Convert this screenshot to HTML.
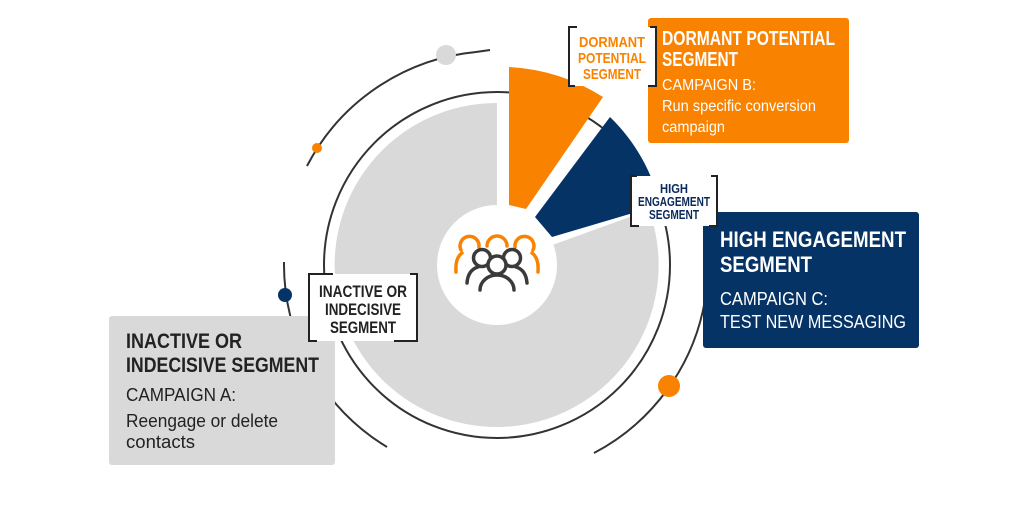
<!DOCTYPE html>
<html><head><meta charset="utf-8"><style>
html,body{margin:0;padding:0;background:#fff;}
svg{display:block;}
text{font-family:"Liberation Sans",sans-serif;}
</style></head><body>
<svg width="1024" height="512" viewBox="0 0 1024 512" xmlns="http://www.w3.org/2000/svg">
<rect width="1024" height="512" fill="#fff"/>
<g fill="none" stroke="#333" stroke-width="2">
<path d="M307,166 A213,213 0 0 1 476,52"/>
<path d="M476,52 L490,50"/>
<path d="M284,262 A213,213 0 0 0 387,447"/>
<path d="M594,453 A213,213 0 0 0 705,300"/>
<circle cx="497" cy="265" r="173"/>
</g>
<path d="M497,265 L497,103 A162,162 0 1 0 649,210 Z" fill="#d9d9d9"/>
<circle cx="497" cy="265" r="60" fill="#fff"/>
<path d="M509,205 L509,67 A195,195 0 0 1 603,97 L526,209 Z" fill="#f98200"/>
<path d="M535,217 L610,117 A180,180 0 0 1 660,205 L552,237 Z" fill="#053366"/>
<circle cx="446" cy="55" r="10" fill="#d9d9d9"/>
<circle cx="317" cy="148" r="5" fill="#f98200"/>
<circle cx="285" cy="295" r="7" fill="#053366"/>
<circle cx="669" cy="386" r="11" fill="#f98200"/>
<g fill="none" stroke-width="3.5" stroke-linecap="round">
<g stroke="#f98200">
<path d="M461,250 A9.5,9.5 0 1 1 479,247"/>
<path d="M487,246 A10,10 0 0 1 507,246"/>
<path d="M515,247 A9.5,9.5 0 1 1 533,250"/>
<path d="M462,253 Q455,258 456,272"/>
<path d="M532,253 Q539,258 538,272"/>
</g>
<g stroke="#3a3a3a">
<circle cx="482" cy="258" r="8.5"/>
<circle cx="512" cy="258" r="8.5"/>
<path d="M467,283 Q468,270 478,267"/>
<path d="M527,283 Q526,270 516,267"/>
<circle cx="497" cy="265" r="9" fill="#fff"/>
<path d="M480,290 A17,15 0 0 1 514,290"/>
</g>
</g>
<rect x="648" y="18" width="201" height="125" rx="3" fill="#f98200"/>
<g fill="#fff">
<text x="662" y="45" font-size="20" font-weight="bold" textLength="173" lengthAdjust="spacingAndGlyphs">DORMANT POTENTIAL</text>
<text x="662" y="66" font-size="20" font-weight="bold" textLength="76" lengthAdjust="spacingAndGlyphs">SEGMENT</text>
<text x="662" y="90" font-size="16" textLength="94" lengthAdjust="spacingAndGlyphs">CAMPAIGN B:</text>
<text x="662" y="111" font-size="16" textLength="154" lengthAdjust="spacingAndGlyphs">Run specific conversion</text>
<text x="662" y="132" font-size="16" textLength="63" lengthAdjust="spacingAndGlyphs">campaign</text>
</g>
<rect x="703" y="212" width="216" height="136" rx="3" fill="#053366"/>
<g fill="#fff">
<text x="720" y="247" font-size="22" font-weight="bold" textLength="186" lengthAdjust="spacingAndGlyphs">HIGH ENGAGEMENT</text>
<text x="720" y="272" font-size="22" font-weight="bold" textLength="92" lengthAdjust="spacingAndGlyphs">SEGMENT</text>
<text x="720" y="305" font-size="18" textLength="108" lengthAdjust="spacingAndGlyphs">CAMPAIGN C:</text>
<text x="720" y="328" font-size="18" textLength="186" lengthAdjust="spacingAndGlyphs">TEST NEW MESSAGING</text>
</g>
<rect x="109" y="316" width="226" height="149" rx="3" fill="#d9d9d9"/>
<g fill="#222">
<text x="126" y="348" font-size="21" font-weight="bold" textLength="116" lengthAdjust="spacingAndGlyphs">INACTIVE OR</text>
<text x="126" y="372" font-size="21" font-weight="bold" textLength="193" lengthAdjust="spacingAndGlyphs">INDECISIVE SEGMENT</text>
<text x="126" y="401" font-size="18" textLength="110" lengthAdjust="spacingAndGlyphs">CAMPAIGN A:</text>
<text x="126" y="427" font-size="18" textLength="152" lengthAdjust="spacingAndGlyphs">Reengage or delete</text>
<text x="126" y="448" font-size="18" textLength="69" lengthAdjust="spacingAndGlyphs">contacts</text>
</g>
<g>
<rect x="569" y="27" width="87" height="59" fill="#fff"/>
<path d="M577,27 H569 V86 H575 M648,86 H656 V27 H650" fill="none" stroke="#222" stroke-width="2"/>
<g fill="#f98200" font-weight="bold" font-size="15">
<text x="579" y="47" textLength="66" lengthAdjust="spacingAndGlyphs">DORMANT</text>
<text x="578" y="63" textLength="68" lengthAdjust="spacingAndGlyphs">POTENTIAL</text>
<text x="583" y="79" textLength="58" lengthAdjust="spacingAndGlyphs">SEGMENT</text>
</g>
<rect x="631" y="176" width="86" height="50" fill="#fff"/>
<path d="M637,176 H631 V226 H639 M709,226 H717 V176 H711" fill="none" stroke="#222" stroke-width="2"/>
<g fill="#0b2a5c" font-weight="bold" font-size="12.5">
<text x="660" y="193" textLength="28" lengthAdjust="spacingAndGlyphs">HIGH</text>
<text x="638" y="206" textLength="72" lengthAdjust="spacingAndGlyphs">ENGAGEMENT</text>
<text x="649" y="219" textLength="50" lengthAdjust="spacingAndGlyphs">SEGMENT</text>
</g>
<rect x="309" y="274" width="108" height="67" fill="#fff"/>
<path d="M333,274 H309 V341 H317 M394,341 H417 V274 H410" fill="none" stroke="#222" stroke-width="2"/>
<g fill="#222" font-weight="bold" font-size="17">
<text x="319" y="297" textLength="88" lengthAdjust="spacingAndGlyphs">INACTIVE OR</text>
<text x="325" y="315" textLength="76" lengthAdjust="spacingAndGlyphs">INDECISIVE</text>
<text x="330" y="333" textLength="66" lengthAdjust="spacingAndGlyphs">SEGMENT</text>
</g>
</g>
</svg>
</body></html>
